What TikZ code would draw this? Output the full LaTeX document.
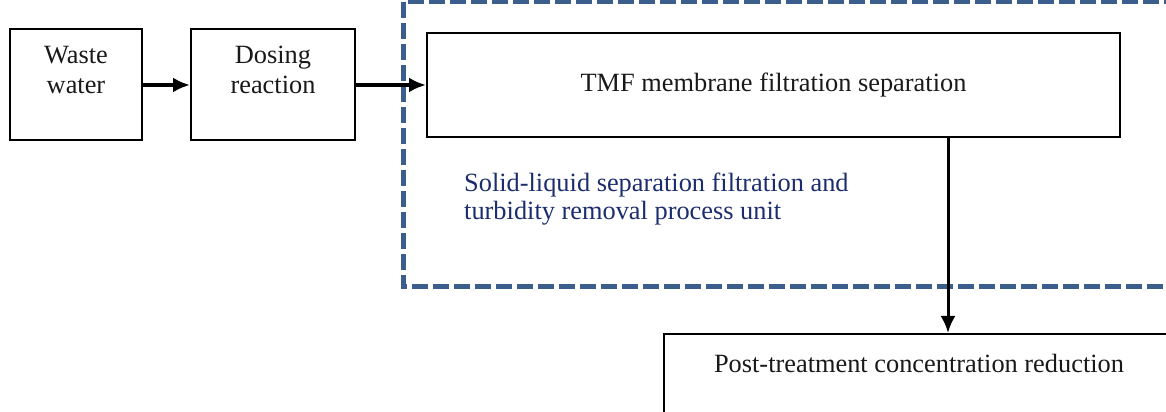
\documentclass[tikz,border=0pt]{standalone}
\usepackage{fontspec}
\setmainfont{Liberation Serif}
\usetikzlibrary{positioning,arrows.meta}
\definecolor{unitblue}{RGB}{59,94,140}
\definecolor{labelnavy}{RGB}{28,45,110}

\begin{document}
\begin{tikzpicture}[> = {Latex[length=0.34cm,width=0.3cm]},
	stage/.style = {draw, line width=0.04cm, align=center, inner sep=0pt, text=black!90, font=\fontsize{15}{17.1}\selectfont},
	flow/.style = {->, line width=0.08cm}]
\useasboundingbox (0,0) rectangle (23.32,8.24);
\clip (0,0) rectangle (23.32,8.24);

	% process unit frame
	\draw [unitblue, line width=0.1cm, dash pattern=on 0.32cm off 0.1cm] (23.6,8.2) -- (8.06,8.2) -- (8.06,2.5) -- (23.6,2.5);
	\node [anchor=west, align=left, text=labelnavy, font=\fontsize{15}{16}\selectfont] (unit) at (9.16,4.26) {Solid-liquid separation filtration and\\turbidity removal process unit};

	\node [stage, minimum width=2.64cm, minimum height=2.22cm] (waste) at (1.52,6.54) {Waste\\water\\~};
	\node [stage, minimum width=3.28cm, minimum height=2.22cm, right=0.94cm of waste] (dosing) {Dosing\\reaction\\~};
	\node [stage, minimum width=13.86cm, minimum height=2.08cm, right=1.4cm of dosing] (tmf) {TMF membrane filtration separation};
	\node [stage, minimum width=10.2cm, minimum height=2.36cm, anchor=north west] (post) at (13.26,1.58) {Post-treatment concentration reduction\\~\\~};

	\draw [flow] (waste) -- (dosing);
	\draw [flow] (dosing) -- (tmf);

	\coordinate (drop) at (18.96,0);
	\draw [flow, line width=0.06cm] (tmf.south -| drop) -- (post.north -| drop);
\end{tikzpicture}
\end{document}
